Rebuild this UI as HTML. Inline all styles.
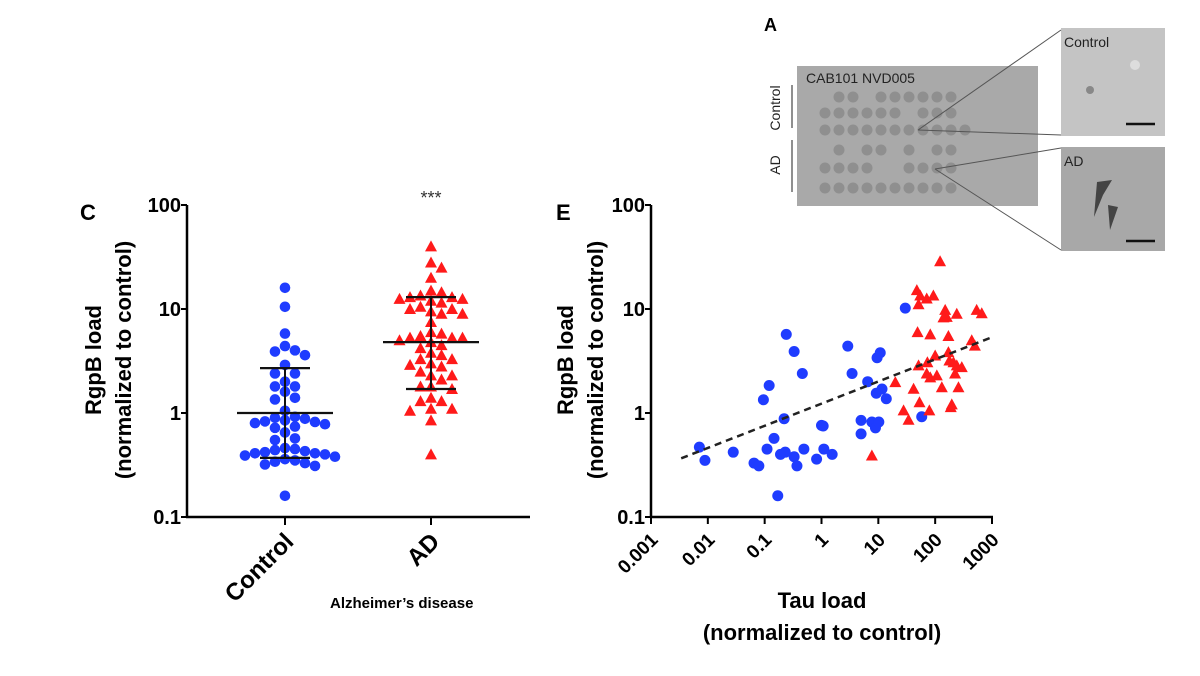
<!DOCTYPE html>
<html><head><meta charset="utf-8"><style>
html,body{margin:0;padding:0;background:#fff;width:1200px;height:676px;overflow:hidden}
svg text{font-family:"Liberation Sans",Arial,sans-serif}
</style></head><body>
<svg id="fig" width="1200" height="676" viewBox="0 0 1200 676">
<g id="panelA">
<text x="764" y="31" font-size="18" font-weight="bold">A</text>
<rect x="797" y="66" width="241" height="140" fill="#a9a9a9"/>
<text x="806" y="83" font-size="14" fill="#222">CAB101 NVD005</text>
<line x1="792" y1="85" x2="792" y2="128" stroke="#444" stroke-width="1.2"/>
<line x1="792" y1="140" x2="792" y2="192" stroke="#444" stroke-width="1.2"/>
<text transform="translate(780,108) rotate(-90)" text-anchor="middle" font-size="14" fill="#222">Control</text>
<text transform="translate(780,165) rotate(-90)" text-anchor="middle" font-size="14" fill="#222">AD</text>
<g id="dots"></g>
<rect x="1061" y="28" width="104" height="108" fill="#c4c4c4"/>
<circle cx="1090" cy="90" r="4" fill="#888"/><circle cx="1135" cy="65" r="5" fill="#ddd"/>
<text x="1064" y="47" font-size="14" fill="#222">Control</text>
<line x1="1126" y1="124" x2="1155" y2="124" stroke="#111" stroke-width="2.5"/>
<rect x="1061" y="147" width="104" height="104" fill="#a8a8a8"/>
<path d="M1097 182 L1112 180 L1103 195 L1094 217 Z" fill="#444"/><path d="M1108 205 L1118 207 L1110 230 Z" fill="#444"/>
<text x="1064" y="166" font-size="14" fill="#222">AD</text>
<line x1="1126" y1="241" x2="1155" y2="241" stroke="#111" stroke-width="2.5"/>
<g stroke="#555" stroke-width="1" fill="none">
<line x1="918" y1="130" x2="1061" y2="30"/><line x1="918" y1="130" x2="1061" y2="135"/>
<line x1="935" y1="169" x2="1061" y2="148"/><line x1="935" y1="169" x2="1061" y2="250"/></g>
</g>
<g id="panelC"></g>
<g id="panelE"></g>
</svg>
<script>
// ---------- data ----------
const groupCategories = ["Control", "AD"];
const controlValues = [16,10.5,5.8,4.4,4.0,3.9,3.6,2.9,2.4,2.4,2.0,1.8,1.8,1.6,1.4,1.35,1.05,0.92,0.9,0.88,0.85,0.83,0.82,0.8,0.78,0.74,0.72,0.65,0.57,0.55,0.46,0.45,0.44,0.43,0.42,0.41,0.41,0.40,0.39,0.38,0.36,0.35,0.34,0.33,0.32,0.31,0.16];
const adValues = [40,28,25,20,15,14.5,13.5,13,13,12.5,12.5,12,11.5,10.5,10,10,9.5,9,9,7.5,6,5.8,5.5,5.3,5.3,5.3,5,4.8,4.5,4.2,3.8,3.6,3.3,3.3,3.0,2.9,2.8,2.5,2.3,2.3,2.1,1.8,1.8,1.7,1.4,1.3,1.3,1.1,1.1,1.05,0.85,0.4];
const groupMeans = [1.0, 4.8];
const groupSdHigh = [2.7, 13];
const groupSdLow = [0.37, 1.7];
const yTickValues = [0.1, 1, 10, 100];
const yTickLabels = ["0.1", "1", "10", "100"];
const xTickValues = [0.001,0.01,0.1,1,10,100,1000];
const xTickLabels = ["0.001","0.01","0.1","1","10","100","1000"];
const ctrlTau = [0.0071,0.0089,0.028,0.065,0.079,0.095,0.12,0.11,0.146,0.17,0.19,0.22,0.23,0.24,0.33,0.33,0.37,0.46,0.49,0.82,1.0,1.07,1.1,1.54,2.9,3.45,4.97,4.97,6.5,7.7,8.9,9.2,9.5,10.8,10.2,11.6,13.8,29.8,58];
const ctrlRgpB = [0.47,0.35,0.42,0.33,0.31,1.34,1.84,0.45,0.57,0.16,0.40,0.88,0.42,5.7,3.9,0.38,0.31,2.4,0.45,0.36,0.76,0.75,0.45,0.40,4.4,2.4,0.85,0.63,2.0,0.82,0.72,1.55,3.4,3.8,0.82,1.7,1.37,10.2,0.92];
const adTau = [7.7,19.9,27.8,34,41.7,47.6,49,51,54.6,51,53,71,73,82,79,93,122,71,82,100,107,131,150,160,171,178,188,196,171,210,224,240,240,257,294,440,500,537,660,140];
const adRgpB = [0.39,1.98,1.06,0.86,1.71,15.2,6.0,11.1,13.5,2.87,1.27,12.6,3.08,5.7,1.06,13.5,28.8,2.4,2.2,3.57,2.3,1.77,9.8,8.4,5.5,3.2,1.14,1.21,3.85,3.08,2.4,9.0,2.87,1.77,2.76,5.0,4.45,9.8,9.1,8.3];
const trendIntercept = 0.090, trendSlope = 0.213, trendRange = [0.0034, 986];

// ---------- helpers ----------
const NS = "http://www.w3.org/2000/svg";
function mk(parent, tag, attrs, text){ const e=document.createElementNS(NS,tag); for(const k in attrs) e.setAttribute(k,attrs[k]); if(text!==undefined) e.textContent=text; parent.appendChild(e); return e; }
const yTop=205, yBot=517;
function yScale(v){ return yBot - (Math.log10(v)+1)/3*(yBot-yTop); }
const BLUE="#1f3cff", RED="#ff1a1a";
function tri(g,cx,cy){ return mk(g,"polygon",{points:`${cx},${cy-6} ${cx-6},${cy+5} ${cx+6},${cy+5}`,fill:RED}); }

// ---------- Panel C ----------
const C=document.getElementById("panelC");
const cx0=187, cx1=530;
const catX=[285,431];
function xCat(i){ return catX[i]; }
let t;
t=mk(C,"text",{x:80,y:220,"font-size":22,"font-weight":"bold"},"C");
 
t=mk(C,"line",{x1:cx0,y1:yTop,x2:cx0,y2:yBot+1,stroke:"#000","stroke-width":2.5});
 
t=mk(C,"line",{x1:cx0-1,y1:yBot,x2:cx1,y2:yBot,stroke:"#000","stroke-width":2.5});
 
yTickValues.forEach((v,i)=>{
  const y=yScale(v);
  mk(C,"line",{x1:cx0-6,y1:y,x2:cx0,y2:y,stroke:"#000","stroke-width":2});
  const tl=mk(C,"text",{x:cx0-6,y:y+7,"text-anchor":"end","font-size":20,"font-weight":"bold"},yTickLabels[i]);
   
});
t=mk(C,"text",{transform:"translate(101,360) rotate(-90)","text-anchor":"middle","font-size":22,"font-weight":"bold"},"RgpB load");
 
t=mk(C,"text",{transform:"translate(131,360) rotate(-90)","text-anchor":"middle","font-size":22,"font-weight":"bold"},"(normalized to control)");
 
groupCategories.forEach((c,i)=>{
  const x=xCat(i);
  mk(C,"line",{x1:x,y1:yBot,x2:x,y2:yBot+8,stroke:"#000","stroke-width":2});
  const tl=mk(C,"text",{transform:`translate(${x+10},${yBot+26}) rotate(-45)`,"text-anchor":"end","font-size":24,"font-weight":"bold"},c);
   
});
t=mk(C,"text",{x:330,y:608,"font-size":15,"font-weight":"bold"},"Alzheimer’s disease");
 
t=mk(C,"text",{x:431,y:204,"text-anchor":"middle","font-size":18,fill:"#333"},"***");
 
// beeswarm
function swarm(values, cx, step){
  const placed=[];
  return values.map(v=>{
    const y=yScale(v); let x=cx;
    const cand=[0]; for(let j=1;j<12;j++){cand.push(j,-j);}
    for(const c of cand){ x=cx+c*step; if(placed.every(p=>Math.hypot(p[0]-x,p[1]-y)>=step*0.95)) break; }
    placed.push([x,y]); return [x,y];
  });
}
const cg=mk(C,"g",{});  
swarm(controlValues,xCat(0),10).forEach(p=>{
  const d=mk(cg,"circle",{cx:p[0],cy:p[1],r:5.3,fill:BLUE});
   
});
const ag=mk(C,"g",{});  
swarm(adValues,xCat(1),10.5).forEach(p=>{
  const d=tri(ag,p[0],p[1]);
   
});
groupCategories.forEach((c,i)=>{
  const x=xCat(i);
  let l=mk(C,"line",{x1:x-48,y1:yScale(groupMeans[i]),x2:x+48,y2:yScale(groupMeans[i]),stroke:"#111","stroke-width":2.2});
   
  l=mk(C,"line",{x1:x,y1:yScale(groupSdHigh[i]),x2:x,y2:yScale(groupSdLow[i]),stroke:"#111","stroke-width":2});
   
  [groupSdHigh[i],groupSdLow[i]].forEach(v=>{
    const cap=mk(C,"line",{x1:x-25,y1:yScale(v),x2:x+25,y2:yScale(v),stroke:"#111","stroke-width":2.2});
     
  });
});

// ---------- Panel E ----------
const E=document.getElementById("panelE");
const ex0=651, ex1=992;
function xScale(v){ return ex0 + (Math.log10(v)+3)/6*(ex1-ex0); }
t=mk(E,"text",{x:556,y:220,"font-size":22,"font-weight":"bold"},"E");
 
t=mk(E,"line",{x1:ex0,y1:yTop,x2:ex0,y2:yBot+1,stroke:"#000","stroke-width":2.5});
 
t=mk(E,"line",{x1:ex0-1,y1:yBot,x2:ex1+1,y2:yBot,stroke:"#000","stroke-width":2.5});
 
yTickValues.forEach((v,i)=>{
  const y=yScale(v);
  mk(E,"line",{x1:ex0-6,y1:y,x2:ex0,y2:y,stroke:"#000","stroke-width":2});
  const tl=mk(E,"text",{x:ex0-6,y:y+7,"text-anchor":"end","font-size":20,"font-weight":"bold"},yTickLabels[i]);
   
});
xTickValues.forEach((v,i)=>{
  const x=xScale(v);
  mk(E,"line",{x1:x,y1:yBot,x2:x,y2:yBot+7,stroke:"#000","stroke-width":2});
  const tl=mk(E,"text",{transform:`translate(${x+8},${yBot+24}) rotate(-45)`,"text-anchor":"end","font-size":19,"font-weight":"bold"},xTickLabels[i]);
   
});
t=mk(E,"text",{transform:"translate(573,360) rotate(-90)","text-anchor":"middle","font-size":22,"font-weight":"bold"},"RgpB load");
 
t=mk(E,"text",{transform:"translate(603,360) rotate(-90)","text-anchor":"middle","font-size":22,"font-weight":"bold"},"(normalized to control)");
 
t=mk(E,"text",{x:822,y:608,"text-anchor":"middle","font-size":22,"font-weight":"bold"},"Tau load");
 
t=mk(E,"text",{x:822,y:640,"text-anchor":"middle","font-size":22,"font-weight":"bold"},"(normalized to control)");
 
const eb=mk(E,"g",{});  
ctrlTau.forEach((v,i)=>{
  const d=mk(eb,"circle",{cx:xScale(v),cy:yScale(ctrlRgpB[i]),r:5.5,fill:BLUE});
   
});
const er=mk(E,"g",{});  
adTau.forEach((v,i)=>{
  const d=tri(er,xScale(v),yScale(adRgpB[i]));
   
});
const trendY=x=>Math.pow(10,trendIntercept+trendSlope*Math.log10(x));
t=mk(E,"line",{x1:xScale(trendRange[0]),y1:yScale(trendY(trendRange[0])),x2:xScale(trendRange[1]),y2:yScale(trendY(trendRange[1])),stroke:"#222","stroke-width":2.5,"stroke-dasharray":"7,5"});
 

// ---------- dot blot decoration ----------
const D=document.getElementById("dots");
const rows=[[1,1,0,1,1,1,1,1,1],[1,1,1,1,1,1,0,1,1,1],[1,1,1,1,1,1,1,1,1,1,1],[0,1,0,1,1,0,1,0,1,1],[1,1,1,1,0,0,1,1,1,1],[1,1,1,1,1,1,1,1,1,1]];
const rowY=[97,113,130,150,168,188];
rows.forEach((r,ri)=>r.forEach((on,ci)=>{ if(on){ mk(D,"circle",{cx:825+ci*14+(ri===0?14:0),cy:rowY[ri],r:5.5,fill:"#8f8f8f"}); } }));
</script>
</body></html>
